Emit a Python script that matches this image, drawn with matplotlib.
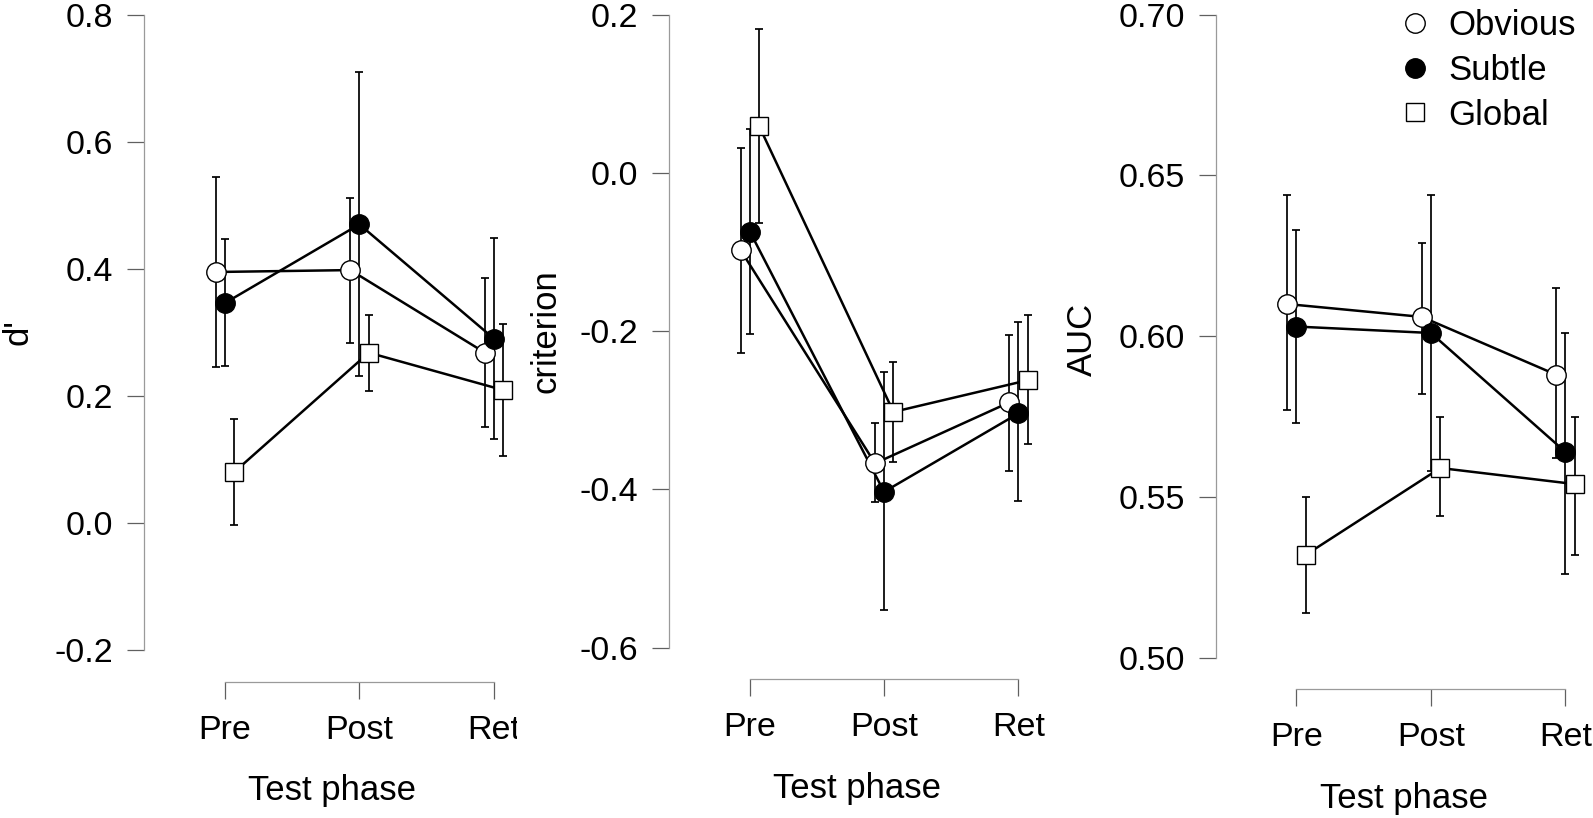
import matplotlib
matplotlib.use("Agg")
import matplotlib.pyplot as plt
from matplotlib.lines import Line2D
from matplotlib.transforms import Bbox, TransformedBbox

plt.rcParams['font.family'] = ['Liberation Sans', 'DejaVu Sans']

# ---------------- data ----------------
phases = ["Pre", "Post", "Ret"]
groups = ["Obvious", "Subtle", "Global"]

# d'
dprime_obvious = [0.395, 0.398, 0.268]
dprime_obvious_lo = [0.246, 0.283, 0.151]
dprime_obvious_hi = [0.545, 0.512, 0.385]
dprime_subtle = [0.346, 0.470, 0.290]
dprime_subtle_lo = [0.247, 0.231, 0.132]
dprime_subtle_hi = [0.447, 0.710, 0.448]
dprime_global = [0.080, 0.268, 0.209]
dprime_global_lo = [-0.003, 0.208, 0.106]
dprime_global_hi = [0.164, 0.328, 0.313]

# criterion
crit_obvious = [-0.098, -0.367, -0.290]
crit_obvious_lo = [-0.228, -0.416, -0.377]
crit_obvious_hi = [0.032, -0.316, -0.205]
crit_subtle = [-0.074, -0.403, -0.304]
crit_subtle_lo = [-0.203, -0.552, -0.415]
crit_subtle_hi = [0.055, -0.252, -0.189]
crit_global = [0.059, -0.302, -0.262]
crit_global_lo = [-0.063, -0.365, -0.343]
crit_global_hi = [0.182, -0.239, -0.180]

# AUC
auc_obvious = [0.610, 0.606, 0.588]
auc_obvious_lo = [0.577, 0.582, 0.562]
auc_obvious_hi = [0.644, 0.629, 0.615]
auc_subtle = [0.603, 0.601, 0.564]
auc_subtle_lo = [0.573, 0.558, 0.526]
auc_subtle_hi = [0.633, 0.644, 0.601]
auc_global = [0.532, 0.559, 0.554]
auc_global_lo = [0.514, 0.544, 0.532]
auc_global_hi = [0.550, 0.575, 0.575]

yticks_dprime = [-0.2, 0.0, 0.2, 0.4, 0.6, 0.8]
yticks_crit = [-0.6, -0.4, -0.2, 0.0, 0.2]
yticks_auc = [0.50, 0.55, 0.60, 0.65, 0.70]

# ---------------- style ----------------
W, H = 1593, 818
fig = plt.figure(figsize=(W / 100, H / 100), dpi=100)

dodge = {"Obvious": -0.067, "Subtle": 0.0, "Global": 0.07}
mstyle = {
    "Obvious": dict(marker="o", markerfacecolor="white", markeredgecolor="black", markersize=14),
    "Subtle": dict(marker="o", markerfacecolor="black", markeredgecolor="black", markersize=14),
    "Global": dict(marker="s", markerfacecolor="white", markeredgecolor="black", markersize=12.8),
}
TICK_FS = 24.5
LAB_FS = 25
SPINE_C = "#9a9a9a"
TICK_C = "#606060"


def make_panel(left_px, top_px, bottom_px, width_px, ylim, yticks, yfmt,
               series, ylabel, ylabel_x_px, ylabel_y_px, clip_right_px=None):
    ax = fig.add_axes([left_px / W, 1 - bottom_px / H, width_px / W, (bottom_px - top_px) / H])
    ax.set_xlim(0.4, 3.2)
    ax.set_ylim(*ylim)
    for s in ("top", "right"):
        ax.spines[s].set_visible(False)
    ax.spines["left"].set_bounds(yticks[0], yticks[-1])
    ax.spines["bottom"].set_bounds(1, 3)
    ax.spines["bottom"].set_position(("outward", 22.8))
    for s in ("left", "bottom"):
        ax.spines[s].set_color(SPINE_C)
        ax.spines[s].set_linewidth(0.9)
    ax.set_xticks([1, 2, 3])
    ax.set_xticklabels(phases)
    ax.set_yticks(yticks)
    ax.set_yticklabels([yfmt.format(v) for v in yticks])
    ax.tick_params(axis="both", length=12.2, width=0.9, color=TICK_C, labelsize=TICK_FS)
    ax.tick_params(axis="y", pad=10)
    ax.tick_params(axis="x", pad=11.5)
    ax.patch.set_visible(False)

    for name, (m, lo, hi) in zip(groups, series):
        xs = [i + 1 + dodge[name] for i in range(3)]
        yerr = [[mi - l for mi, l in zip(m, lo)], [h - mi for mi, h in zip(m, hi)]]
        ax.errorbar(xs, m, yerr=yerr, fmt="none", ecolor="black", elinewidth=1.25,
                    capsize=3.0, capthick=1.25, zorder=2, clip_on=False)
        ax.plot(xs, m, "-", color="black", lw=1.8, zorder=3, clip_on=False)
        ax.plot(xs, m, ls="none", markeredgewidth=1.0, zorder=4, clip_on=False, **mstyle[name])

    ax.set_xlabel("Test phase", fontsize=LAB_FS, labelpad=20.5)
    fig.text(ylabel_x_px / W, 1 - ylabel_y_px / H, ylabel, rotation=90,
             ha="center", va="center", fontsize=LAB_FS)

    if clip_right_px is not None:
        bb = TransformedBbox(Bbox([[0, 0], [clip_right_px / W, 1]]), fig.transFigure)
        for t in ax.xaxis.get_major_ticks():
            t.label1.set_clip_box(bb)
            t.label1.set_clip_on(True)
    return ax


ax1 = make_panel(144, 14.7, 650, 376.9, (-0.2, 0.8), yticks_dprime, "{:.1f}",
                 [(dprime_obvious, dprime_obvious_lo, dprime_obvious_hi),
                  (dprime_subtle, dprime_subtle_lo, dprime_subtle_hi),
                  (dprime_global, dprime_global_lo, dprime_global_hi)],
                 "d'", 18, 332, clip_right_px=517)

ax2 = make_panel(669.3, 14.7, 647.7, 375.8, (-0.6, 0.2), yticks_crit, "{:.1f}",
                 [(crit_obvious, crit_obvious_lo, crit_obvious_hi),
                  (crit_subtle, crit_subtle_lo, crit_subtle_hi),
                  (crit_global, crit_global_lo, crit_global_hi)],
                 "criterion", 546, 331)

ax3 = make_panel(1215.7, 14.7, 657.7, 376.6, (0.5, 0.7), yticks_auc, "{:.2f}",
                 [(auc_obvious, auc_obvious_lo, auc_obvious_hi),
                  (auc_subtle, auc_subtle_lo, auc_subtle_hi),
                  (auc_global, auc_global_lo, auc_global_hi)],
                 "AUC", 1082, 339)

handles = [Line2D([], [], ls="none", markeredgewidth=1.0, **mstyle[g]) for g in groups]
fig.legend(handles, groups, loc="upper left", bbox_to_anchor=(1401 / W, 1 - 9 / H),
           frameon=False, fontsize=25, borderpad=0, borderaxespad=0,
           handlelength=0.8, handletextpad=0.55, labelspacing=0.34)

fig.savefig("out.png", dpi=100)
